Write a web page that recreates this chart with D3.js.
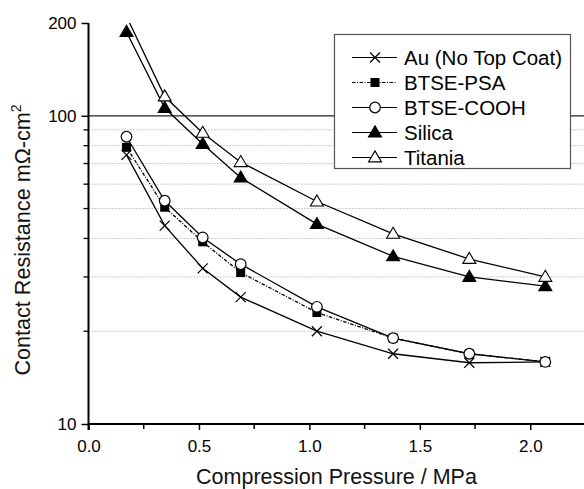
<!DOCTYPE html>
<html>
<head>
<meta charset="utf-8">
<script src="https://cdn.jsdelivr.net/npm/d3@7"></script>
<style>
  html, body { margin: 0; padding: 0; background: #fff; }
  svg { display: block; font-family: "Liberation Sans", Arial, sans-serif; }
</style>
</head>
<body>
<svg id="chart" width="584" height="489"></svg>
<script>
// ---- data ----
const pressure = [0.172, 0.345, 0.517, 0.689, 1.034, 1.379, 1.724, 2.068];
const seriesNames = ["Au (No Top Coat)", "BTSE-PSA", "BTSE-COOH", "Silica", "Titania"];
const auValues      = [74.7, 44, 32, 25.8, 20, 16.9, 15.8, 15.9];
const psaValues     = [79, 50.5, 39, 31, 23, 19, 16.9, 15.9];
const coohValues    = [85.5, 53, 40.3, 33, 24, 19, 16.9, 15.9];
const silicaValues  = [187, 106, 81, 63, 44.5, 35, 30, 28];
const titaniaValues = [210, 115.5, 88, 70.7, 52.7, 41.4, 34.3, 30];
const xTicks = [0.0, 0.5, 1.0, 1.5, 2.0];
const xMinorTicks = [0.25, 0.75, 1.25, 1.75, 2.25];
const yTicks = [10, 100, 200];
const yMinorTicks = [20, 30, 40, 50, 60, 70, 80, 90];

(function () {
const valuesList = [auValues, psaValues, coohValues, silicaValues, titaniaValues];
const markers = ["cross", "square", "circle", "triFilled", "triOpen"];
const dashes = [null, "3.5,1.5,1,1.5", null, null, null];

const svg = d3.select("#chart");
const pl = 88.5, pr = 585.5, pt = 23, pb = 424;
const x = d3.scaleLinear().domain([0, 2.25]).range([pl, pr]);
const y = d3.scaleLog().domain([10, 200]).range([pb, pt]);

svg.append("defs").append("clipPath").attr("id", "plotclip")
  .append("rect").attr("x", pl).attr("y", pt).attr("width", pr - pl).attr("height", pb - pt);

// gridlines
svg.append("g").selectAll("line").data(yMinorTicks).join("line")
  .attr("x1", pl).attr("x2", pr)
  .attr("y1", d => y(d)).attr("y2", d => y(d))
  .attr("stroke", "#999").attr("stroke-width", 1).attr("stroke-dasharray", "1,2");
svg.append("line")
  .attr("x1", pl).attr("x2", pr).attr("y1", y(100)).attr("y2", y(100))
  .attr("stroke", "#222").attr("stroke-width", 1.2);

// axes
const xAxis = d3.axisBottom(x).tickValues(xTicks).tickFormat(d3.format(".1f")).tickSizeInner(6).tickSizeOuter(0).tickPadding(10);
const gx = svg.append("g").attr("transform", `translate(0,${pb})`).call(xAxis);
gx.append("g").selectAll("line").data(xMinorTicks).join("line")
  .attr("x1", d => x(d)).attr("x2", d => x(d)).attr("y1", 0).attr("y2", 5)
  .attr("stroke", "#000").attr("stroke-width", 1.5);

const yAxis = d3.axisLeft(y).tickValues(yTicks).tickFormat(d3.format("d")).tickSizeInner(7).tickSizeOuter(0).tickPadding(5);
const gy = svg.append("g").attr("transform", `translate(${pl},0)`).call(yAxis);
gy.append("g").selectAll("line").data(yMinorTicks).join("line")
  .attr("x1", -5).attr("x2", 0).attr("y1", d => y(d)).attr("y2", d => y(d))
  .attr("stroke", "#000").attr("stroke-width", 1.3);

[gx, gy].forEach(g => {
  g.attr("font-family", "'Liberation Sans', Arial, sans-serif");
  g.select(".domain").attr("stroke", "#000").attr("stroke-width", 2);
  g.selectAll(".tick line").attr("stroke", "#000").attr("stroke-width", 1.5);
  g.selectAll(".tick text").attr("font-size", 17).attr("fill", "#000");
});
gy.select(".domain").attr("d", `M0,${pt}V${pb + 6}`);
gx.select(".domain").attr("d", `M${pl},0H${pr}`);

function drawMarker(g, type, cx, cy) {
  if (type === "cross") {
    const s = 5;
    g.append("path").attr("d", `M${cx - s},${cy - s}L${cx + s},${cy + s}M${cx - s},${cy + s}L${cx + s},${cy - s}`)
      .attr("stroke", "#000").attr("stroke-width", 1.2).attr("fill", "none");
  } else if (type === "square") {
    const s = 4.5;
    g.append("rect").attr("x", cx - s).attr("y", cy - s).attr("width", 2 * s).attr("height", 2 * s)
      .attr("fill", "#000");
  } else if (type === "circle") {
    g.append("circle").attr("cx", cx).attr("cy", cy).attr("r", 5.3)
      .attr("fill", "#fff").attr("stroke", "#000").attr("stroke-width", 1.2);
  } else {
    const h = 11, w = 13;
    g.append("path").attr("d", `M${cx},${cy - h * 0.6}L${cx + w / 2},${cy + h * 0.4}L${cx - w / 2},${cy + h * 0.4}Z`)
      .attr("fill", type === "triFilled" ? "#000" : "#fff")
      .attr("stroke", "#000").attr("stroke-width", 1.1);
  }
}

const line = d3.line().x(d => x(d.p)).y(d => y(d.v));
const plot = svg.append("g");
valuesList.forEach((vals, i) => {
  const pts = pressure.map((p, j) => ({ p, v: vals[j] }));
  plot.append("path").datum(pts).attr("d", line)
    .attr("clip-path", "url(#plotclip)")
    .attr("fill", "none").attr("stroke", "#000").attr("stroke-width", 1.3)
    .attr("stroke-dasharray", dashes[i]);
});
valuesList.forEach((vals, i) => {
  const g = plot.append("g");
  pressure.forEach((p, j) => {
    if (vals[j] <= 200) drawMarker(g, markers[i], x(p), y(vals[j]));
  });
});

// legend
const lg = svg.append("g");
lg.append("rect").attr("x", 334.5).attr("y", 34.5).attr("width", 236).attr("height", 134)
  .attr("fill", "#fff").attr("stroke", "#555").attr("stroke-width", 1.2);
seriesNames.forEach((name, i) => {
  const cy = 57.5 + i * 25;
  lg.append("line").attr("x1", 352).attr("x2", 397).attr("y1", cy).attr("y2", cy)
    .attr("stroke", "#000").attr("stroke-width", 1.2).attr("stroke-dasharray", dashes[i]);
  drawMarker(lg, markers[i], 375, cy);
  lg.append("text").attr("x", 404).attr("y", cy + 7.5).attr("font-size", 20.5).attr("fill", "#000").text(name);
});

// axis titles
svg.append("text").attr("x", 336.5).attr("y", 484).attr("text-anchor", "middle")
  .attr("font-size", 21.5).attr("fill", "#111").text("Compression Pressure / MPa");
const yt = svg.append("text").attr("transform", "translate(30,240) rotate(-90)")
  .attr("text-anchor", "middle").attr("font-size", 21.6).attr("fill", "#111");
yt.append("tspan").text("Contact Resistance m\u03A9-cm");
yt.append("tspan").attr("dy", -9).attr("font-size", 14).text("2");
})();
</script>
</body>
</html>
